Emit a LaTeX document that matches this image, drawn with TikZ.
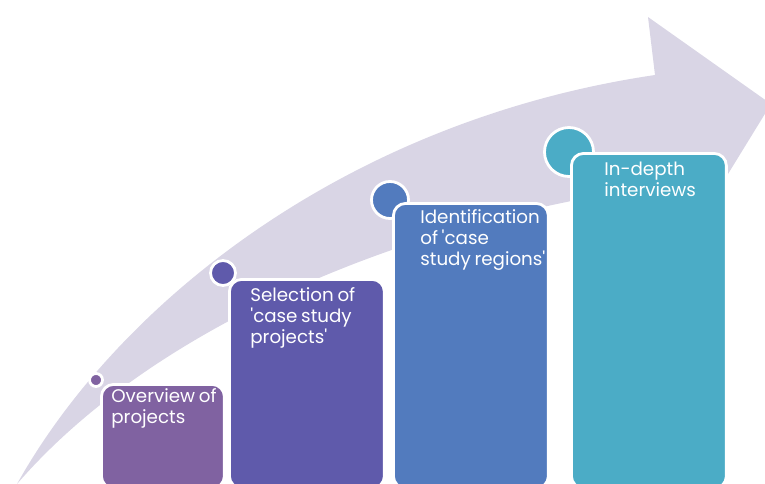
\documentclass[tikz,border=0pt]{standalone}
\usepackage{fontspec}
\setmainfont{Poppins}[Ligatures=TeXOff]
\usetikzlibrary{positioning}

\definecolor{arrowfill}{RGB}{217,213,229}
\definecolor{stepA}{RGB}{128,98,161}
\definecolor{stepB}{RGB}{95,90,171}
\definecolor{stepC}{RGB}{82,123,190}
\definecolor{stepD}{RGB}{75,172,198}

\begin{document}
\begin{tikzpicture}[
	x = 0.02cm, y = -0.02cm, % one unit is one pixel of the sketch
	stepbox/.style={draw=white, line width=1.6pt, rounded corners=7pt, anchor=north west, inner sep=0pt, minimum width=3.1cm},
	dot/.style={circle, draw=white, line width=1.6pt, inner sep=0pt},
	steptext/.style={text=white, align=left, anchor=north west, inner sep=0pt,
		font=\fontsize{10.4}{12}\selectfont, execute at begin node={\spaceskip=0.2em\relax}},
	]
	\useasboundingbox (0,0) rectangle (765,484);
	\clip (0,0) rectangle (765,484);

	% Curved arrow in the background
	\fill[arrowfill] (17,484) .. controls (120,300) and (350,120) .. (655,75)
		-- (648,17) -- (771,104) -- (677,257) -- (668,185)
		.. controls (400,220) and (150,330) .. (17,484) -- cycle;

	% Dots at the corners of the steps
	\node[dot, fill=stepA, minimum size=0.26cm] (D1) at (96,380) {};
	\node[dot, fill=stepB, minimum size=0.5cm]  (D2) at (223,273) {};
	\node[dot, fill=stepC, minimum size=0.74cm] (D3) at (390,200) {};
	\node[dot, fill=stepD, minimum size=0.98cm] (D4) at (569,152) {};

	% Steps
	\node[stepbox, fill=stepA, minimum width=2.46cm, minimum height=2.08cm] (S1) at (100,383) {};
	\node[stepbox, fill=stepB, minimum height=4.18cm] (S2) at (228,278) {};
	\node[stepbox, fill=stepC, minimum height=5.7cm]  (S3) at (392,202) {};
	\node[stepbox, fill=stepD, minimum height=6.7cm]  (S4) at (570,152) {};

	% Texts of the steps
	\node[steptext, below right = 0.1cm and 0.22cm of S1.north west] (T1) {Overview of\\projects};
	\node[steptext, below right = 0.18cm and 0.44cm of S2.north west] (T2) {Selection of\\'case study\\projects'};
	\node[steptext, below right = 0.14cm and 0.56cm of S3.north west] (T3) {Identification\\of 'case\\study regions'};
	\node[steptext, below right = 0.2cm and 0.68cm of S4.north west]  (T4) {In-depth\\interviews};

\end{tikzpicture}
\end{document}
